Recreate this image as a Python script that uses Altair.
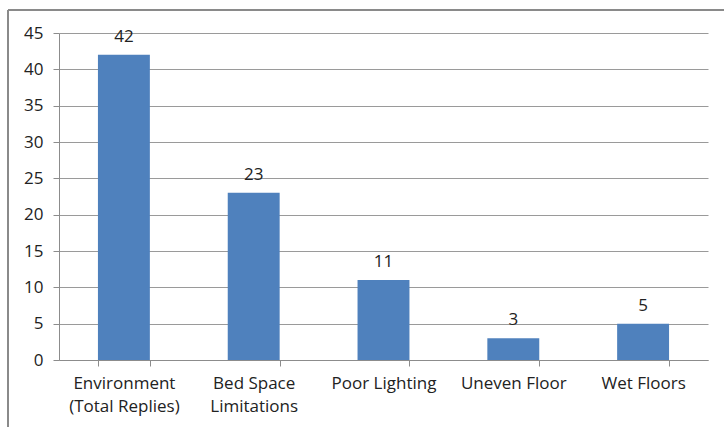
import altair as alt
import pandas as pd

categories = ["Environment\n(Total Replies)", "Bed Space\nLimitations", "Poor Lighting", "Uneven Floor", "Wet Floors"]
values = [42, 23, 11, 3, 5]
y_ticks = [0, 5, 10, 15, 20, 25, 30, 35, 40, 45]

df = pd.DataFrame({"cat": categories, "val": values})
order = categories
FONT = "Open Sans"

x = alt.X("cat:N", sort=order, title=None,
          scale=alt.Scale(paddingInner=0.6, paddingOuter=0.3),
          axis=alt.Axis(labelAngle=0, labelExpr="split(datum.label, '\\n')", labelFont=FONT,
                        labelFontSize=17, labelColor="#222222", labelLineHeight=23,
                        labelPadding=9, tickBand="extent", tickSize=6, tickColor="#8c8c8c",
                        domainColor="#8c8c8c", labelBaseline="top"))
y = alt.Y("val:Q", title=None,
          scale=alt.Scale(domain=[0, 45], nice=False),
          axis=alt.Axis(values=y_ticks, labelOverlap=False, labelFont=FONT, labelFontSize=17,
                        labelColor="#222222", labelPadding=10, tickSize=6, tickColor="#8c8c8c",
                        domainColor="#8c8c8c", grid=True, gridColor="#9a9a9a"))

bars = alt.Chart(df).mark_bar(color="#4F81BD").encode(x=x, y=y)
labels = alt.Chart(df).mark_text(font=FONT, fontSize=17, color="#222222", baseline="alphabetic", dy=-13).encode(
    x=x, y=y, text="val:Q")

border_top = alt.Chart(df).mark_rule(color="#8a8a8a", strokeWidth=2).encode(
    x=alt.value(-51), x2=alt.value(700), y=alt.value(-23))
border_left = alt.Chart(df).mark_rule(color="#8a8a8a", strokeWidth=2).encode(
    x=alt.value(-51), y=alt.value(-23), y2=alt.value(500))

chart = alt.layer(bars, labels, border_top, border_left).properties(
    width=649, height=327,
    autosize=alt.AutoSizeParams(type="none"),
    padding={"left": 59, "top": 33, "right": 16, "bottom": 67},
).configure_view(stroke=None).configure_axis(domainWidth=1, tickWidth=1, gridWidth=1)

chart.save("out.html", embed_options={"renderer": "svg", "actions": False})
